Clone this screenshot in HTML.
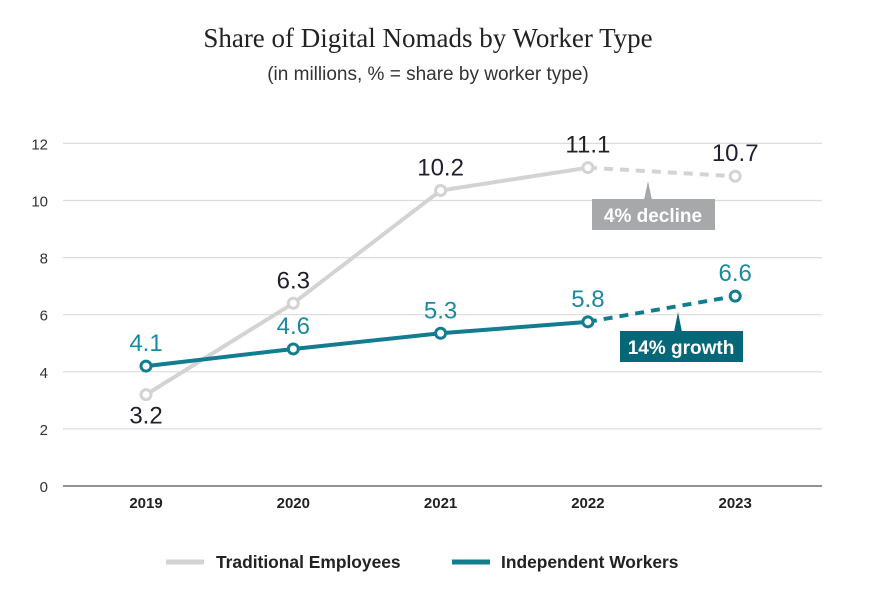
<!DOCTYPE html>
<html><head><meta charset="utf-8"><style>
body{margin:0;background:#fff;}
svg{display:block;font-family:"Liberation Sans",sans-serif;}
</style></head><body>
<svg id="chart" width="879" height="606" viewBox="0 0 879 606">
<text x="428" y="47" text-anchor="middle" font-family="Liberation Serif,serif" font-size="27" fill="#222">Share of Digital Nomads by Worker Type</text>
<text x="428" y="80" text-anchor="middle" font-size="19" fill="#333">(in millions, % = share by worker type)</text>
<g id="grid"></g><g id="series"></g>
<g>
<line x1="166" y1="562" x2="204" y2="562" stroke="#d3d3d3" stroke-width="5"/>
<text x="216" y="568" font-size="17.4" font-weight="bold" fill="#222">Traditional Employees</text>
<line x1="452" y1="562" x2="490" y2="562" stroke="#137d90" stroke-width="5"/>
<text x="501" y="568" font-size="17.4" font-weight="bold" fill="#222">Independent Workers</text>
</g>
<g>
<polygon points="644,200 652,200 648,181" fill="#a7a8aa"/>
<rect x="592" y="199" width="123" height="31" fill="#a7a8aa"/>
<text x="653" y="222" text-anchor="middle" font-size="19" font-weight="bold" fill="#fff">4% decline</text>
</g>
<g>
<polygon points="674,332 682,332 678,312" fill="#046878"/>
<rect x="620" y="331" width="123" height="31" fill="#046878"/>
<text x="681" y="354" text-anchor="middle" font-size="19" font-weight="bold" fill="#fff">14% growth</text>
</g>
</svg>
<script>
const years=["2019","2020","2021","2022","2023"];
const traditional=[3.2,6.4,10.35,11.15,10.85];
const independent=[4.2,4.8,5.35,5.75,6.65];
const traditionalLabels=["3.2","6.3","10.2","11.1","10.7"];
const independentLabels=["4.1","4.6","5.3","5.8","6.6"];
const yTicks=[0,2,4,6,8,10,12];
const NS="http://www.w3.org/2000/svg";
const xS=i=>146+i*147.3;
const yS=v=>486-v*28.55;
function mk(t,a,p){const e=document.createElementNS(NS,t);for(const k in a)e.setAttribute(k,a[k]);p.appendChild(e);return e;}
const grid=document.getElementById('grid'),ser=document.getElementById('series');
yTicks.forEach(v=>{
 const l=mk('line',{x1:63,x2:822,y1:yS(v),y2:yS(v),stroke:v===0?'#6f6f6f':'#dcdcdc','stroke-width':v===0?1.5:1.2},grid);
 
 
 const t=mk('text',{x:48,y:yS(v)+6,'text-anchor':'end','font-size':15,fill:'#333'},grid);t.textContent=v;
 
 
});
years.forEach((y,i)=>{
 const t=mk('text',{x:xS(i),y:508,'text-anchor':'middle','font-size':15,'font-weight':'bold',fill:'#222'},grid);t.textContent=y;
 
 
});
function draw(vals,labels,color,lblColor,name,labelAbove){
 const solid=vals.slice(0,4).map((v,i)=>xS(i)+','+yS(v)).join(' ');
 const pl=mk('polyline',{points:solid,fill:'none',stroke:color,'stroke-width':4},ser);
 
 
 const d=mk('line',{x1:xS(3),y1:yS(vals[3]),x2:xS(4),y2:yS(vals[4]),stroke:color,'stroke-width':4,'stroke-dasharray':'9 7'},ser);
 
 
 vals.forEach((v,i)=>{
  const c=mk('circle',{cx:xS(i),cy:yS(v),r:5,fill:'#fff',stroke:color,'stroke-width':3},ser);
  
  
  const below=labelAbove[i]===0;
  const t=mk('text',{x:xS(i),y:below?yS(v)+29:yS(v)-15,'text-anchor':'middle','font-size':24,fill:lblColor},ser);
  t.textContent=labels[i];
  
  
 });
}
draw(traditional,traditionalLabels,'#d3d3d3','#1f1f2e','traditional',[0,1,1,1,1]);
draw(independent,independentLabels,'#137d90','#1a8aa0','independent',[1,1,1,1,1]);
</script>
</body></html>
